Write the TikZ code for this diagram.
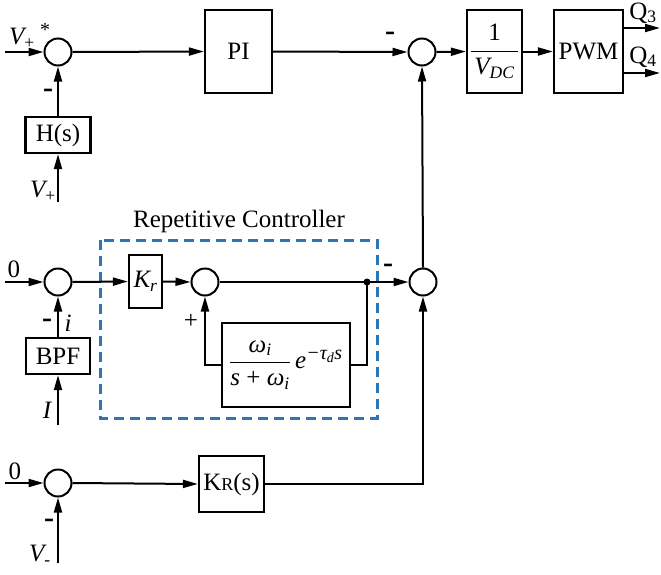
\documentclass[tikz,border=0pt]{standalone}
\usepackage{fontspec}
\setmainfont{Liberation Serif}
\usetikzlibrary{arrows.meta}
\definecolor{rcblue}{RGB}{46,117,182}
\begin{document}
\begin{tikzpicture}[x=1pt,y=-1pt,
  every node/.style={font=\fontsize{25}{29}\selectfont},
  sumc/.style={circle,draw,line width=2pt,minimum size=27pt,inner sep=0pt},
  blk/.style={rectangle,draw,line width=2.3pt,inner sep=1pt},
  arr/.style={line width=2pt,-{Triangle[length=15pt,width=8pt]}},
  ln/.style={line width=2pt},
  lab/.style={inner sep=0pt},
  mns/.style={inner sep=0pt,font=\fontsize{30}{32}\selectfont\bfseries}]
\useasboundingbox (0,0) rectangle (661,574);
% sum junctions
\node[sumc] (c1) at (58,52) {};
\node[sumc] (c2) at (422,52) {};
\node[sumc] (c3) at (58,282) {};
\node[sumc] (c4) at (205,282) {};
\node[sumc] (c5) at (423,282) {};
\node[sumc] (c6) at (58,483) {};
% blocks
\node[blk,minimum width=67pt,minimum height=83pt] (pi) at (238.5,51.5) {PI};
\node[blk,minimum width=55pt,minimum height=83pt] (vdc) at (494.5,51.5)
  {$\displaystyle\frac{\hbox{1}}{\hbox{\hspace{3pt}\itshape V\textsubscript{DC}\hspace{3pt}}}$};
\node[blk,minimum width=69pt,minimum height=83pt,inner sep=0pt] (pwm) at (588.5,51.5) {PWM};
\node[blk,minimum width=65pt,minimum height=36pt] (hs) at (58,135) {H(s)};
\node[blk,minimum width=64pt,minimum height=36pt] (bpf) at (58,356) {BPF};
\node[blk,minimum width=33pt,minimum height=53pt] (kr) at (145.5,281.5) {\itshape K\textsubscript{r}};
\node[blk,minimum width=128pt,minimum height=84pt] (rc) at (286,365)
  {$\displaystyle\frac{\hbox{\itshape ω\textsubscript{i}}}{\hbox{\itshape s\upshape\ + \itshape ω\textsubscript{i}}}$\,\itshape e\textsuperscript{\fontsize{20}{22}\selectfont−τ\textsubscript{d}s}};
\node[blk,minimum width=65pt,minimum height=56pt] (kR) at (231.5,484) {K{\fontsize{18}{20}\selectfont R}(s)};
% dashed container
\draw[rcblue,line width=3pt,dash pattern=on 10pt off 6pt] (100,240) rectangle (377,418);
\node[lab] (rclab) at (239,221) {Repetitive Controller};
% coordinates
\coordinate (in1) at (5,52);
\coordinate (in3) at (5,282);
\coordinate (in6) at (5,483);
\coordinate (vp) at (58,202);
\coordinate (ii) at (58,425);
\coordinate (vm) at (58,563);
\coordinate (q3) at (660,28);
\coordinate (q4) at (660,73);
\coordinate (dot) at (367,282);
% top row
\draw[arr] (in1) -- (c1.west);
\draw[arr] (c1.east) -- (pi.west);
\draw[arr] (pi.east) -- (c2.west);
\draw[arr] (c2.east) -- (vdc.west);
\draw[arr] (vdc.east) -- (pwm.west);
\draw[arr] (pwm.east |- q3) -- (q3);
\draw[arr] (pwm.east |- q4) -- (q4);
\draw[arr] (hs.north) -- (c1.south);
\draw[arr] (vp) -- (hs.south);
% middle row
\draw[arr] (in3) -- (c3.west);
\draw[arr] (c3.east) -- (kr.west);
\draw[arr] (kr.east) -- (c4.west);
\draw[ln] (c4.east) -- (dot);
\draw[arr] (dot) -- (c5.west);
\draw[ln] (dot) -- (dot |- rc.east) -- (rc.east);
\draw[arr] (rc.west) -- (c4 |- rc.west) -- (c4.south);
\fill (dot) circle (3.5pt);
\draw[arr] (bpf.north) -- (c3.south);
\draw[arr] (ii) -- (bpf.south);
\draw[arr] (c5.north) -- (c2.south);
% bottom row
\draw[arr] (in6) -- (c6.west);
\draw[arr] (c6.east) -- (kR.west);
\draw[arr] (kR.east) -- (c5 |- kR.east) -- (c5.south);
\draw[arr] (vm) -- (c6.south);
% labels
\node[lab] (lvps) at (22,38) {\itshape V\textsubscript{\upshape +}};
\node[lab] (lstar) at (45,30) {\fontsize{20}{22}\selectfont *};
\node[mns] (m1) at (48,93) {-};
\node[lab] (lvp) at (43,191) {\itshape V\textsubscript{\upshape +}};
\node[mns] (m2) at (390,36) {-};
\node[lab] (lq3) at (643,13) {Q\textsubscript{3}};
\node[lab] (lq4) at (643,57) {Q\textsubscript{4}};
\node[lab] (l0a) at (14,269) {0};
\node[mns] (m3) at (47,323) {-};
\node[lab] (li) at (68,323) {\itshape i};
\node[lab] (lI) at (47,410) {\itshape I};
\node[lab] (lplus) at (191,321) {\fontsize{25}{27}\selectfont +};
\node[mns] (m4) at (388,268) {-};
\node[lab] (l0b) at (15,471) {0};
\node[mns] (m5) at (49,523) {-};
\node[lab] (lvm) at (40,555) {\itshape V\textsubscript{\upshape -}};
\end{tikzpicture}
\end{document}
